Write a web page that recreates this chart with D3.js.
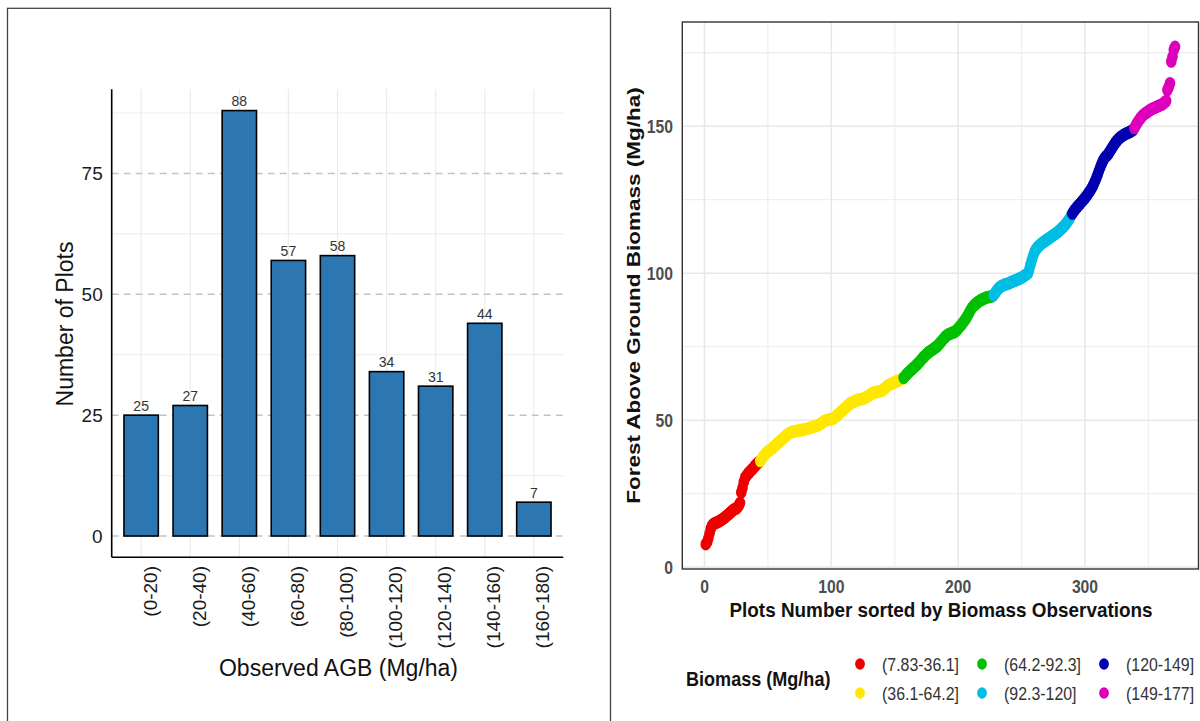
<!DOCTYPE html>
<html>
<head>
<meta charset="utf-8">
<script src="https://cdn.jsdelivr.net/npm/d3@7"></script>
<style>
  html, body { margin: 0; padding: 0; background: #fff; }
  svg { display: block; font-family: "Liberation Sans", Arial, sans-serif; }
</style>
</head>
<body>
<svg id="fig" width="1200" height="721"></svg>
<script>
// ---- Histogram of observed AGB ----
const binLabels = ["(0-20)", "(20-40)", "(40-60)", "(60-80)", "(80-100)",
                   "(100-120)", "(120-140)", "(140-160)", "(160-180)"];
const plotCounts = [25, 27, 88, 57, 58, 34, 31, 44, 7];
const countTicks = [0, 25, 50, 75];
const countMinor = [12.5, 37.5, 62.5, 87.5];

// ---- Plots sorted by observed biomass (Mg/ha) ----
const biomass = [
  7.83, 8.5, 9.8, 11.5, 13.2, 14.2, 14.6, 14.9, 15.1, 15.3,
  15.5, 15.7, 16.0, 16.3, 16.6, 16.9, 17.3, 17.6, 18.0, 18.4,
  18.8, 19.2, 19.6, 19.8, 19.95, 20.4, 21.0, 21.8, 25.5, 27.0,
  29.0, 30.4, 31.0, 31.6, 32.1, 32.6, 33.0, 33.5, 34.0, 34.5,
  35.0, 35.4, 35.8, 36.1, 36.8, 37.5, 38.0, 38.5, 39.0, 39.4,
  39.7, 39.95, 40.3, 40.7, 41.1, 41.5, 41.9, 42.3, 42.7, 43.0,
  43.4, 43.8, 44.2, 44.6, 45.0, 45.3, 45.6, 45.8, 46.0, 46.1,
  46.2, 46.3, 46.4, 46.5, 46.5, 46.6, 46.7, 46.8, 46.9, 47.0,
  47.1, 47.2, 47.4, 47.5, 47.6, 47.8, 47.9, 48.0, 48.2, 48.4,
  48.6, 48.9, 49.2, 49.5, 49.8, 50.0, 50.1, 50.2, 50.3, 50.4,
  50.5, 50.7, 51.0, 51.4, 51.8, 52.2, 52.6, 53.0, 53.4, 53.8,
  54.2, 54.6, 55.0, 55.4, 55.7, 56.0, 56.2, 56.4, 56.6, 56.8,
  56.9, 57.0, 57.1, 57.2, 57.3, 57.5, 57.7, 57.9, 58.2, 58.5,
  58.8, 59.1, 59.3, 59.4, 59.5, 59.6, 59.7, 59.8, 59.9, 59.97,
  60.4, 60.8, 61.2, 61.6, 61.9, 62.1, 62.3, 62.5, 62.7, 62.9,
  63.1, 63.3, 63.5, 63.7, 63.9, 64.1, 64.4, 64.9, 65.4, 65.9,
  66.3, 66.7, 67.1, 67.5, 67.9, 68.3, 68.7, 69.1, 69.6, 70.1,
  70.6, 71.1, 71.6, 72.0, 72.4, 72.8, 73.2, 73.5, 73.8, 74.1,
  74.4, 74.7, 75.0, 75.4, 75.9, 76.4, 76.9, 77.4, 77.9, 78.4,
  78.8, 79.1, 79.3, 79.5, 79.7, 79.85, 79.95, 80.3, 80.7, 81.2,
  81.7, 82.2, 82.7, 83.3, 83.9, 84.5, 85.2, 86.0, 86.8, 87.6,
  88.3, 88.8, 89.2, 89.6, 90.0, 90.3, 90.6, 90.9, 91.1, 91.3,
  91.5, 91.7, 91.8, 91.9, 92.0, 92.1, 92.25, 92.6, 93.2, 93.8,
  94.4, 94.9, 95.3, 95.6, 95.8, 96.0, 96.2, 96.3, 96.4, 96.6,
  96.8, 97.0, 97.2, 97.4, 97.5, 97.7, 97.9, 98.1, 98.3, 98.5,
  98.8, 99.1, 99.4, 99.7, 99.95, 101.2, 102.8, 104.4, 105.8, 107.0,
  107.9, 108.5, 109.0, 109.4, 109.8, 110.2, 110.5, 110.8, 111.1, 111.4,
  111.7, 112.0, 112.3, 112.6, 112.9, 113.2, 113.5, 113.8, 114.2, 114.6,
  115.0, 115.4, 115.8, 116.3, 116.8, 117.4, 118.0, 118.7, 119.6, 120.3,
  121.0, 121.6, 122.1, 122.6, 123.1, 123.6, 124.1, 124.6, 125.1, 125.6,
  126.2, 126.8, 127.4, 128.0, 128.7, 129.5, 130.4, 131.4, 132.5, 133.6,
  134.8, 136.0, 137.1, 138.1, 138.9, 139.5, 139.9, 140.4, 141.0, 141.7,
  142.4, 143.1, 143.8, 144.4, 145.0, 145.5, 145.9, 146.3, 146.6, 146.9,
  147.2, 147.4, 147.6, 147.8, 148.0, 148.2, 148.5, 148.8, 149.4, 150.2,
  151.0, 151.7, 152.3, 152.9, 153.4, 153.8, 154.2, 154.5, 154.8, 155.1,
  155.4, 155.7, 155.9, 156.1, 156.3, 156.5, 156.7, 156.9, 157.1, 157.3,
  157.5, 157.8, 158.2, 158.6, 162.3, 163.3, 164.6, 172.0, 173.6, 176.0, 177.0
];
const classBreaks = [36.1, 64.2, 92.3, 120, 149];
const classLabels = ["(7.83-36.1]", "(36.1-64.2]", "(64.2-92.3]",
                     "(92.3-120]", "(120-149]", "(149-177]"];
const classColors = ["#ee0000", "#ffe800", "#00c000", "#00bde3", "#0000b0", "#dd00bb"];
const plotTicks = [0, 100, 200, 300];
const plotMinor = [50, 150, 250, 350];
const biomassTicks = [0, 50, 100, 150];
const biomassMinor = [25, 75, 125, 175];

const svg = d3.select("#fig");
svg.append("rect").attr("width", 1200).attr("height", 721).attr("fill", "#fff");

// =================== Left: histogram ===================
const L = { left: 111.7, right: 563.3, top: 89.3, bottom: 557.3 };
const left = svg.append("g");

left.append("rect")
  .attr("x", 7.5).attr("y", 8.3).attr("width", 603).attr("height", 730)
  .attr("fill", "none").attr("stroke", "#444").attr("stroke-width", 1.3);

const xL = d3.scalePoint().domain(binLabels).range([L.left, L.right]).padding(0.6);
const stepL = xL.step();
const yL = d3.scaleLinear()
  .domain([0 - 0.05 * d3.max(plotCounts), d3.max(plotCounts) * 1.05])
  .range([L.bottom, L.top]);

// grid
left.selectAll(".vgrid").data(binLabels).join("line")
  .attr("x1", d => xL(d)).attr("x2", d => xL(d))
  .attr("y1", L.top).attr("y2", L.bottom)
  .attr("stroke", "#ebebeb").attr("stroke-width", 1.2);
left.selectAll(".hminor").data(countMinor).join("line")
  .attr("x1", L.left).attr("x2", L.right)
  .attr("y1", d => yL(d)).attr("y2", d => yL(d))
  .attr("stroke", "#ededed").attr("stroke-width", 1.1);
left.selectAll(".hmajor").data(countTicks).join("line")
  .attr("x1", L.left).attr("x2", L.right)
  .attr("y1", d => yL(d)).attr("y2", d => yL(d))
  .attr("stroke", "#c4c4c4").attr("stroke-width", 1.5)
  .attr("stroke-dasharray", "7,5");

// bars
left.selectAll(".bar").data(plotCounts).join("rect")
  .attr("x", (d, i) => xL(binLabels[i]) - stepL * 0.35)
  .attr("width", stepL * 0.7)
  .attr("y", d => yL(d))
  .attr("height", d => yL(0) - yL(d))
  .attr("fill", "#2c77b1").attr("stroke", "#000").attr("stroke-width", 1.6);

// value labels
left.selectAll(".val").data(plotCounts).join("text")
  .attr("x", (d, i) => xL(binLabels[i]))
  .attr("y", d => yL(d) - 4.5)
  .attr("text-anchor", "middle")
  .attr("font-size", 14).attr("fill", "#333")
  .text(d => d);

// axis lines
left.append("line").attr("x1", L.left).attr("x2", L.left)
  .attr("y1", L.top).attr("y2", L.bottom).attr("stroke", "#000").attr("stroke-width", 1.6);
left.append("line").attr("x1", L.left).attr("x2", L.right)
  .attr("y1", L.bottom).attr("y2", L.bottom).attr("stroke", "#000").attr("stroke-width", 1.6);

// y axis ticks
const yAxisL = left.append("g").attr("transform", `translate(${L.left},0)`)
  .call(d3.axisLeft(yL).tickValues(countTicks).tickSize(0).tickPadding(9));
yAxisL.select(".domain").remove();
yAxisL.selectAll("text").attr("font-size", 19).attr("fill", "#1a1a1a")
  .attr("font-family", "'Liberation Sans', Arial, sans-serif");

// x axis ticks (rotated)
const xAxisL = left.append("g").attr("transform", `translate(0,${L.bottom})`)
  .call(d3.axisBottom(xL).tickSize(0));
xAxisL.select(".domain").remove();
xAxisL.selectAll("text")
  .attr("font-size", 19).attr("fill", "#1a1a1a")
  .attr("font-family", "'Liberation Sans', Arial, sans-serif")
  .attr("text-anchor", "end")
  .attr("dy", null)
  .attr("y", 0)
  .attr("transform", "translate(15,8.7) rotate(-90)");

// titles
left.append("text")
  .attr("transform", "translate(73,324) rotate(-90)")
  .attr("text-anchor", "middle").attr("font-size", 23).attr("fill", "#111")
  .text("Number of Plots");
left.append("text")
  .attr("x", 338.5).attr("y", 675.5)
  .attr("text-anchor", "middle").attr("font-size", 23).attr("fill", "#111")
  .text("Observed AGB (Mg/ha)");

// =================== Right: sorted biomass ===================
const R = { left: 682.3, right: 1198.5, top: 22, bottom: 569 };
const right = svg.append("g");
const n = biomass.length;
const idx = d3.range(1, n + 1);
const xPad = 0.05 * (n - 1);
const xR = d3.scaleLinear().domain([1 - xPad, n + xPad]).range([R.left, R.right]);
const [bMin, bMax] = d3.extent(biomass);
const yPad = 0.05 * (bMax - bMin);
const yR = d3.scaleLinear().domain([bMin - yPad, bMax + yPad]).range([R.bottom, R.top]);
const classOf = d3.scaleThreshold().domain(classBreaks).range(d3.range(classLabels.length));
const SX = 0.85; // horizontal text compression of this panel

right.append("rect").attr("x", R.left).attr("y", R.top)
  .attr("width", R.right - R.left).attr("height", R.bottom - R.top).attr("fill", "#fff");

right.selectAll(".vmin").data(plotMinor).join("line")
  .attr("x1", d => xR(d)).attr("x2", d => xR(d)).attr("y1", R.top).attr("y2", R.bottom)
  .attr("stroke", "#efefef").attr("stroke-width", 1.3);
right.selectAll(".hmin").data(biomassMinor).join("line")
  .attr("y1", d => yR(d)).attr("y2", d => yR(d)).attr("x1", R.left).attr("x2", R.right)
  .attr("stroke", "#efefef").attr("stroke-width", 1.3);
right.selectAll(".vmaj").data(plotTicks).join("line")
  .attr("x1", d => xR(d)).attr("x2", d => xR(d)).attr("y1", R.top).attr("y2", R.bottom)
  .attr("stroke", "#e8e8e8").attr("stroke-width", 1.6);
right.selectAll(".hmaj").data(biomassTicks).join("line")
  .attr("y1", d => yR(d)).attr("y2", d => yR(d)).attr("x1", R.left).attr("x2", R.right)
  .attr("stroke", "#e8e8e8").attr("stroke-width", 1.6);

// points
right.selectAll(".pt").data(biomass).join("ellipse")
  .attr("cx", (d, i) => xR(idx[i]))
  .attr("cy", d => yR(d))
  .attr("rx", 5.3).attr("ry", 6.3)
  .attr("fill", d => classColors[classOf(d)]);

// panel border
right.append("rect").attr("x", R.left).attr("y", R.top)
  .attr("width", R.right - R.left).attr("height", R.bottom - R.top)
  .attr("fill", "none").attr("stroke", "#333").attr("stroke-width", 1.4);

// tick labels
right.selectAll(".yt").data(biomassTicks).join("text")
  .attr("transform", d => `translate(673,${yR(d) + 6.5}) scale(${SX},1)`)
  .attr("text-anchor", "end").attr("font-size", 18.5).attr("font-weight", "bold")
  .attr("fill", "#4d4d4d").text(d => d);
right.selectAll(".xt").data(plotTicks).join("text")
  .attr("transform", d => `translate(${xR(d)},592.5) scale(${SX},1)`)
  .attr("text-anchor", "middle").attr("font-size", 18.5).attr("font-weight", "bold")
  .attr("fill", "#4d4d4d").text(d => d);

// axis titles
right.append("text")
  .attr("transform", `translate(640,295.5) scale(${SX},1) rotate(-90)`)
  .attr("text-anchor", "middle").attr("font-size", 22.5).attr("font-weight", "bold")
  .attr("fill", "#111").text("Forest Above Ground Biomass (Mg/ha)");
right.append("text")
  .attr("transform", `translate(941,616.5) scale(0.9,1)`)
  .attr("text-anchor", "middle").attr("font-size", 21).attr("font-weight", "bold")
  .attr("fill", "#111").text("Plots Number sorted by Biomass Observations");

// legend
const legend = right.append("g");
legend.append("text")
  .attr("transform", `translate(686,686) scale(0.86,1)`)
  .attr("font-size", 21).attr("font-weight", "bold").attr("fill", "#111")
  .text("Biomass (Mg/ha)");
const legCols = [860, 982, 1104];
const legRows = [664, 693];
const items = legend.selectAll(".item").data(classLabels).join("g")
  .attr("transform", (d, i) => `translate(${legCols[Math.floor(i / 2)]},${legRows[i % 2]})`);
items.append("ellipse").attr("rx", 4.9).attr("ry", 5.8)
  .attr("fill", (d, i) => classColors[i]);
items.append("text")
  .attr("transform", `translate(22,6.5) scale(0.86,1)`)
  .attr("font-size", 18.5).attr("fill", "#333")
  .text(d => d);
</script>
</body>
</html>
